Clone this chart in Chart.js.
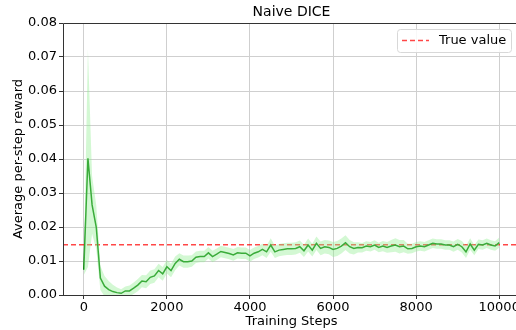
<!DOCTYPE html>
<html>
<head>
<meta charset="utf-8">
<script src="https://cdn.jsdelivr.net/npm/chart.js@4.4.1/dist/chart.umd.min.js"></script>
<style>
  html, body { margin: 0; padding: 0; background: #fff; overflow: hidden; }
  #wrap { position: absolute; left: 0; top: 0; width: 530px; height: 330px; }
</style>
</head>
<body>
<div id="wrap"><canvas id="chart" width="530" height="330"></canvas></div>
<script>
// training steps 0..10000, one point per 100 steps
const steps = [];
for (let s = 0; s <= 10000; s += 100) steps.push(s);

const meanReward = [
  0.0074, 0.0402, 0.0265, 0.0200, 0.0050, 0.0026, 0.0016, 0.0010, 0.0007, 0.0005,
  0.0012, 0.0012, 0.0020, 0.0029, 0.0041, 0.0039, 0.0052, 0.0056, 0.0072, 0.0062,
  0.0083, 0.0072, 0.0093, 0.0105, 0.0098, 0.0098, 0.0100, 0.0111, 0.0113, 0.0113,
  0.0124, 0.0113, 0.0120, 0.0128, 0.0125, 0.0122, 0.0118, 0.0124, 0.0123, 0.0123,
  0.0115, 0.0123, 0.0127, 0.0134, 0.0127, 0.0147, 0.0127, 0.0132, 0.0134, 0.0136,
  0.0136, 0.0137, 0.0142, 0.0130, 0.0147, 0.0132, 0.0152, 0.0137, 0.0142, 0.0140,
  0.0134, 0.0137, 0.0144, 0.0154, 0.0142, 0.0137, 0.0140, 0.0139, 0.0144, 0.0142,
  0.0147, 0.0140, 0.0144, 0.0140, 0.0144, 0.0147, 0.0142, 0.0144, 0.0136, 0.0137,
  0.0142, 0.0144, 0.0142, 0.0147, 0.0152, 0.0150, 0.0150, 0.0147, 0.0147, 0.0142,
  0.0149, 0.0142, 0.0127, 0.0150, 0.0132, 0.0149, 0.0147, 0.0152, 0.0147, 0.0144,
  0.0154
];

const stdReward = [
  0.0015, 0.0320, 0.0085, 0.0065, 0.0035, 0.0030, 0.0025, 0.0020, 0.0015, 0.0012,
  0.0013, 0.0016, 0.0017, 0.0018, 0.0018, 0.0019, 0.0020, 0.0020, 0.0020, 0.0020,
  0.0020, 0.0020, 0.0020, 0.0018, 0.0018, 0.0018, 0.0017, 0.0017, 0.0017, 0.0017,
  0.0017, 0.0017, 0.0017, 0.0017, 0.0017, 0.0017, 0.0017, 0.0017, 0.0017, 0.0017,
  0.0017, 0.0017, 0.0017, 0.0017, 0.0018, 0.0020, 0.0018, 0.0018, 0.0018, 0.0018,
  0.0018, 0.0018, 0.0018, 0.0018, 0.0019, 0.0019, 0.0020, 0.0020, 0.0020, 0.0020,
  0.0022, 0.0022, 0.0022, 0.0022, 0.0020, 0.0018, 0.0015, 0.0014, 0.0014, 0.0014,
  0.0014, 0.0014, 0.0015, 0.0016, 0.0018, 0.0020, 0.0020, 0.0018, 0.0015, 0.0014,
  0.0014, 0.0014, 0.0014, 0.0014, 0.0014, 0.0014, 0.0014, 0.0014, 0.0014, 0.0015,
  0.0016, 0.0017, 0.0018, 0.0017, 0.0015, 0.0014, 0.0014, 0.0014, 0.0014, 0.0014,
  0.0015
];

const trueValue = 0.0148;
const xLimits = [-500, 10500];
const xTicks = [0, 2000, 4000, 6000, 8000, 10000];
const yTicks = [0, 0.01, 0.02, 0.03, 0.04, 0.05, 0.06, 0.07, 0.08];

const FONT = 'DejaVu Sans';

const upper = steps.map((s, i) => ({ x: s, y: meanReward[i] + stdReward[i] }));
const lower = steps.map((s, i) => ({ x: s, y: meanReward[i] - stdReward[i] }));
const mean  = steps.map((s, i) => ({ x: s, y: meanReward[i] }));

// frame, title and matplotlib-like legend
const decorPlugin = {
  id: 'decor',
  afterDraw(chart) {
    const { ctx, chartArea: a } = chart;
    ctx.save();
    ctx.strokeStyle = '#333';
    ctx.lineWidth = 1;
    ctx.beginPath();
    ctx.moveTo(a.left + 0.5, a.bottom + 0.5);
    ctx.lineTo(a.left + 0.5, a.top + 0.5);
    ctx.lineTo(a.right, a.top + 0.5);
    ctx.moveTo(a.left, a.bottom + 0.5);
    ctx.lineTo(a.right, a.bottom + 0.5);
    ctx.stroke();

    ctx.fillStyle = '#000';
    ctx.font = '14px "' + FONT + '"';
    ctx.textAlign = 'center';
    ctx.textBaseline = 'middle';
    ctx.fillText('Naive DICE', (a.left + a.right) / 2, 12);

    // legend box
    const ds = chart.data.datasets[3];
    const bx = 397, by = 29, bw = 114, bh = 23, r = 3;
    ctx.fillStyle = 'rgba(255,255,255,0.85)';
    ctx.strokeStyle = '#d8d8d8';
    ctx.beginPath();
    ctx.roundRect(bx + 0.5, by + 0.5, bw, bh, r);
    ctx.fill();
    ctx.stroke();
    ctx.strokeStyle = ds.borderColor;
    ctx.lineWidth = ds.borderWidth;
    ctx.setLineDash(ds.borderDash);
    ctx.beginPath();
    ctx.moveTo(bx + 5, by + 11.5);
    ctx.lineTo(bx + 32, by + 11.5);
    ctx.stroke();
    ctx.setLineDash([]);
    ctx.fillStyle = '#000';
    ctx.font = '13px "' + FONT + '"';
    ctx.textAlign = 'left';
    ctx.fillText(ds.label, bx + 42, by + 12);
    ctx.restore();
  }
};

new Chart(document.getElementById('chart'), {
  type: 'line',
  data: {
    datasets: [
      { label: 'upper', data: upper, borderWidth: 0, pointRadius: 0, fill: '+1',
        backgroundColor: 'rgba(144,238,144,0.4)', tension: 0 },
      { label: 'lower', data: lower, borderWidth: 0, pointRadius: 0, fill: false, tension: 0 },
      { label: 'mean', data: mean, borderColor: '#008000', borderWidth: 1.5, pointRadius: 0,
        fill: false, tension: 0 },
      { label: 'True value', data: [{ x: xLimits[0], y: trueValue }, { x: xLimits[1], y: trueValue }],
        borderColor: 'rgba(255,0,0,0.72)', borderWidth: 1.5, borderDash: [5, 3],
        pointRadius: 0, fill: false }
    ]
  },
  options: {
    responsive: false,
    animation: false,
    layout: { padding: { top: 23, right: 10, left: 0, bottom: 0 } },
    plugins: { legend: { display: false }, title: { display: false }, tooltip: { enabled: false } },
    scales: {
      x: {
        type: 'linear',
        min: xLimits[0], max: xLimits[1],
        afterBuildTicks: s => { s.ticks = xTicks.map(v => ({ value: v })); },
        afterFit: s => { s.height = 35; },
        border: { display: false },
        grid: { color: '#cfcfcf', lineWidth: 1, tickLength: 4, tickColor: '#333' },
        ticks: { color: '#000', padding: 1, maxRotation: 0, font: { family: FONT, size: 13 },
                 callback: v => String(v) },
        title: { display: true, text: 'Training Steps', color: '#000',
                 font: { family: FONT, size: 13 }, padding: { top: 0, bottom: 1 } }
      },
      y: {
        min: 0, max: 0.08,
        afterBuildTicks: s => { s.ticks = yTicks.map(v => ({ value: v })); },
        afterFit: s => { s.width = 63; },
        border: { display: false },
        grid: { color: '#cfcfcf', lineWidth: 1, tickLength: 4, tickColor: '#333' },
        ticks: { color: '#000', padding: 2, font: { family: FONT, size: 13 },
                 callback: v => v.toFixed(2) },
        title: { display: true, text: 'Average per-step reward', color: '#000',
                 font: { family: FONT, size: 13 }, padding: { top: 11, bottom: 0 } }
      }
    }
  },
  plugins: [decorPlugin]
});
</script>
</body>
</html>
